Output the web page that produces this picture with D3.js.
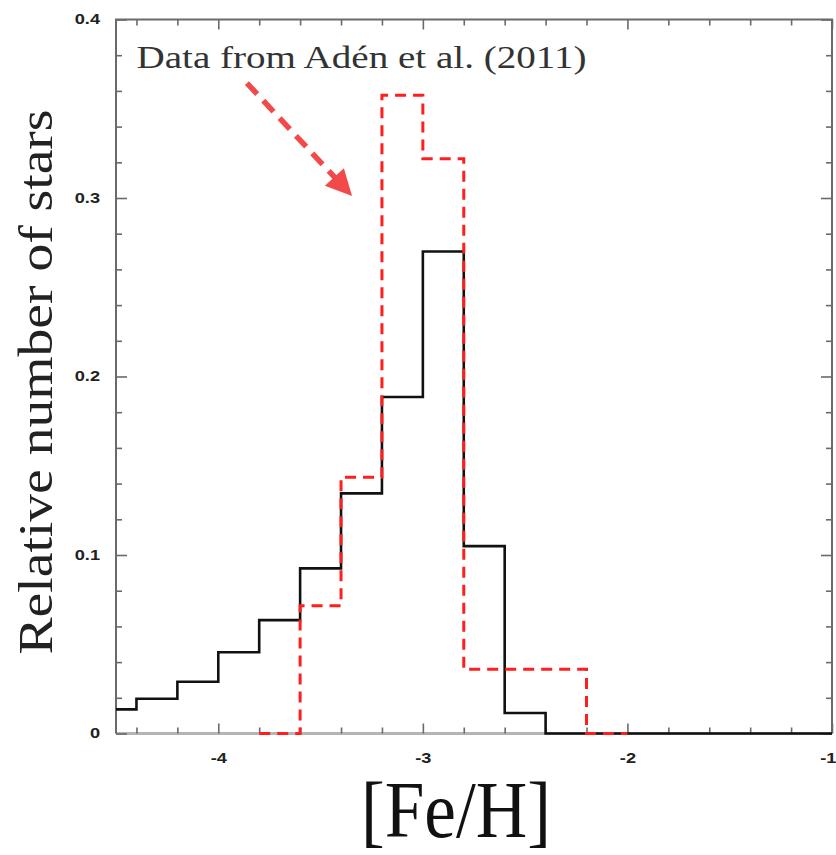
<!DOCTYPE html>
<html><head><meta charset="utf-8">
<script src="https://cdn.jsdelivr.net/npm/d3@7"></script>
<style>body{margin:0;background:#fff}svg{display:block}</style>
</head><body>
<svg id="c" width="836" height="855"></svg>
<script>
// ---- data ----
const blackEdges = [-4.5,-4.4,-4.2,-4.0,-3.8,-3.6,-3.4,-3.2,-3.0,-2.8,-2.6,-2.4,-1.0];
const blackValues = [0.0135,0.0195,0.029,0.0455,0.0635,0.0925,0.1345,0.1885,0.270,0.105,0.0115,0];
const redEdges = [-3.8,-3.6,-3.4,-3.2,-3.0,-2.8,-2.6,-2.4,-2.2,-2.0];
const redValues = [0,0.0715,0.1435,0.3575,0.322,0.036,0.036,0.036,0];
const xMajor = [-4,-3,-2,-1];
const xMinor = [-4.4,-4.2,-3.8,-3.6,-3.4,-3.2,-2.8,-2.6,-2.4,-2.2,-1.8,-1.6,-1.4,-1.2];
const yMajor = [0,0.1,0.2,0.3,0.4];
const yMinor = [0.02,0.04,0.06,0.08,0.12,0.14,0.16,0.18,0.22,0.24,0.26,0.28,0.32,0.34,0.36,0.38];
const xTickLabels = ["-4","-3","-2","-1"];
const yTickLabels = ["0","0.1","0.2","0.3","0.4"];
const annotation = "Data from Adén et al. (2011)";
const arrowFrom = [-3.86, 0.3644];
const arrowTip = [-3.346, 0.3011];

// ---- layout ----
const L = 116, R = 832, T = 19.5, B = 733.5;
const svg = d3.select("#c");
const x = d3.scaleLinear().domain([-4.5,-1]).range([L,R]);
const y = d3.scaleLinear().domain([0,0.4]).range([B,T]);

function stepPath(edges, vals){
  const p = d3.path();
  p.moveTo(x(edges[0]), y(vals[0]));
  for(let i=0;i<vals.length;i++){
    if(i>0) p.lineTo(x(edges[i]), y(vals[i]));
    p.lineTo(x(edges[i+1]), y(vals[i]));
  }
  return p.toString();
}

// frame
const frameColor = "#6a6a6a";
svg.append("line").attr("x1",L).attr("x2",R).attr("y1",B).attr("y2",B)
  .attr("stroke","#b5b5b5").attr("stroke-width",3);
svg.append("path").attr("d",`M${L},${B}V${T}H${R}V${B}`)
  .attr("fill","none").attr("stroke",frameColor).attr("stroke-width",2);

function styleAxis(g){
  g.select(".domain").remove();
  g.selectAll(".tick line").attr("stroke",frameColor).attr("stroke-width",1.6);
}
const tickFont = g => g.selectAll(".tick text")
  .attr("font-family","'Liberation Sans', Arial, sans-serif")
  .attr("font-weight","bold").attr("font-size",14).attr("fill","#222")
  .each(function(){
    const w = this.getComputedTextLength();
    d3.select(this).attr("textLength", w*1.3).attr("lengthAdjust","spacingAndGlyphs");
  });

// bottom
const gx = svg.append("g").attr("transform",`translate(0,${B})`)
  .call(d3.axisBottom(x).tickValues(xMajor).tickSize(-10).tickPadding(20)
        .tickFormat((d,i)=>xTickLabels[i]))
  .call(styleAxis).call(tickFont);
gx.selectAll(".tick").filter(d=>d===-1).select("text")
  .attr("text-anchor","end").attr("x",4);
svg.append("g").attr("transform",`translate(0,${B})`)
  .call(d3.axisBottom(x).tickValues(xMinor).tickSize(-6).tickFormat(""))
  .call(styleAxis);
// top
svg.append("g").attr("transform",`translate(0,${T})`)
  .call(d3.axisTop(x).tickValues(xMajor).tickSize(-10).tickFormat(""))
  .call(styleAxis);
svg.append("g").attr("transform",`translate(0,${T})`)
  .call(d3.axisTop(x).tickValues(xMinor).tickSize(-6).tickFormat(""))
  .call(styleAxis);
// left
svg.append("g").attr("transform",`translate(${L},0)`)
  .call(d3.axisLeft(y).tickValues(yMajor).tickSize(-11).tickPadding(16)
        .tickFormat((d,i)=>yTickLabels[i]))
  .call(styleAxis).call(tickFont);
svg.append("g").attr("transform",`translate(${L},0)`)
  .call(d3.axisLeft(y).tickValues(yMinor).tickSize(-6).tickFormat(""))
  .call(styleAxis);
// right
svg.append("g").attr("transform",`translate(${R},0)`)
  .call(d3.axisRight(y).tickValues(yMajor).tickSize(-11).tickFormat(""))
  .call(styleAxis);
svg.append("g").attr("transform",`translate(${R},0)`)
  .call(d3.axisRight(y).tickValues(yMinor).tickSize(-6).tickFormat(""))
  .call(styleAxis);

// histograms
svg.append("path").attr("d",stepPath(blackEdges,blackValues))
  .attr("fill","none").attr("stroke","#111").attr("stroke-width",2.6)
  .attr("stroke-linejoin","miter");
svg.append("path").attr("d",stepPath(redEdges,redValues))
  .attr("fill","none").attr("stroke","#ff1e1e").attr("stroke-width",3)
  .attr("stroke-dasharray","11,7");

// arrow
const ax0 = x(arrowFrom[0]), ay0 = y(arrowFrom[1]);
const ax1 = x(arrowTip[0]), ay1 = y(arrowTip[1]);
const dx = ax1-ax0, dy = ay1-ay0, len = Math.hypot(dx,dy);
const ux = dx/len, uy = dy/len;
const headL = 26, headW = 13;
const bx = ax1-ux*headL, by = ay1-uy*headL;
const arrowColor = "#f24a4a";
svg.append("line").attr("x1",ax0).attr("y1",ay0).attr("x2",bx+ux*2).attr("y2",by+uy*2)
  .attr("stroke",arrowColor).attr("stroke-width",5.5).attr("stroke-dasharray","15,9");
svg.append("path")
  .attr("d",`M${ax1},${ay1}L${bx-uy*headW},${by+ux*headW}L${bx+uy*headW},${by-ux*headW}Z`)
  .attr("fill",arrowColor);

// annotation
svg.append("text").attr("x",x(-4.4)).attr("y",y(0.3728))
  .attr("font-family","'Liberation Serif','DejaVu Serif',serif")
  .attr("font-size",32).attr("fill","#333")
  .attr("textLength",450).attr("lengthAdjust","spacingAndGlyphs")
  .text(annotation);

// axis titles
svg.append("text").attr("transform","translate(52,382) rotate(-90)")
  .attr("text-anchor","middle")
  .attr("font-family","'Liberation Serif','DejaVu Serif',serif")
  .attr("font-size",48).attr("fill","#222")
  .attr("textLength",545).attr("lengthAdjust","spacingAndGlyphs")
  .text("Relative number of stars");
svg.append("text").attr("x",456).attr("y",837)
  .attr("text-anchor","middle")
  .attr("font-family","'Liberation Serif','DejaVu Serif',serif")
  .attr("font-size",80).attr("fill","#111")
  .attr("textLength",190).attr("lengthAdjust","spacingAndGlyphs")
  .text("[Fe/H]");
</script>
</body></html>
